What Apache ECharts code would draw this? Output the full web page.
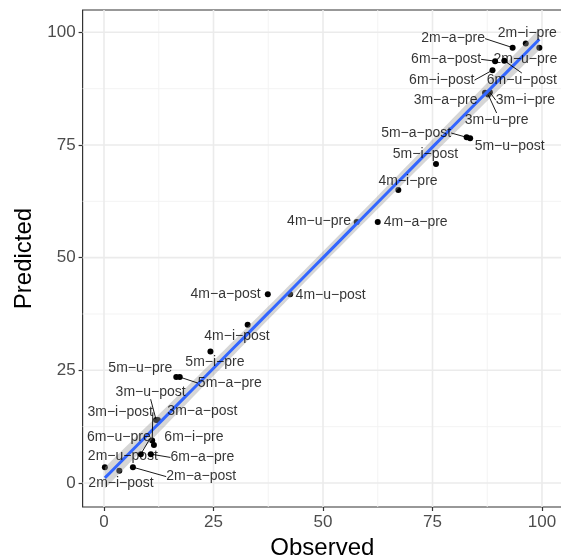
<!DOCTYPE html>
<html><head><meta charset="utf-8">
<script src="https://cdn.jsdelivr.net/npm/echarts@6/dist/echarts.min.js"></script>
<style>html,body{margin:0;padding:0;background:#fff}#c{width:561px;height:558px}</style>
</head><body><div id="c"></div>
<script>
// ---------- data ----------
const labels = [
  '2m−i−pre','2m−a−pre','2m−u−pre','6m−a−post','6m−u−post','6m−i−post',
  '3m−a−pre','3m−i−pre','3m−u−pre','5m−a−post','5m−u−post','5m−i−post',
  '4m−i−pre','4m−a−pre','4m−u−pre','4m−a−post','4m−u−post','4m−i−post',
  '5m−i−pre','5m−u−pre','5m−a−pre','3m−u−post','3m−a−post','3m−i−post',
  '6m−u−pre','6m−i−pre','6m−a−pre','2m−u−post','2m−i−post','2m−a−post'
];
const observed = [
  96.3, 93.3, 99.4, 89.3, 91.4, 88.7,
  87.0, 88.1, 87.7, 82.8, 83.6, 75.8,
  67.2, 62.5, 57.7, 37.4, 42.5, 32.8,
  24.3, 16.5, 17.3, 11.9, 12.3, 11.0,
  8.4, 11.4, 10.7, 0.2, 3.5, 6.6
];
const predicted = [
  97.5, 96.6, 96.6, 93.6, 93.7, 91.6,
  86.6, 86.7, 86.2, 76.7, 76.5, 70.8,
  65.0, 57.9, 57.9, 41.9, 41.9, 35.1,
  29.2, 23.5, 23.5, 14.0, 14.0, 9.4,
  6.4, 8.4, 6.4, 3.5, 2.7, 3.5
];
const tickValues = [0, 25, 50, 75, 100];
const minorValues = [12.5, 37.5, 62.5, 87.5];

// ---------- layout (label offsets in px, segment flags) ----------
const labelOffsets = [
  [1.5,-10.5],[-59.5,-9],[-14,11.3],[-49,-1.8],[17.5,19.3],[-50.7,10],
  [-39.5,7.3],[35.5,8],[8.5,25.5],[-50.5,-4.3],[39.5,8],[-10.5,-10],
  [9.7,-9],[38,0.3],[-37.7,-0.7],[-42.2,-0.3],[40.5,0.7],[-10.7,11.7],
  [4.5,11.2],[-36,-9],[50,6],[-5.5,-27.7],[44.5,-8.3],[-32,-28.3],
  [-22,-16.7],[40,-7.7],[51.5,3.3],[18,-10.6],[1.7,12.6],[68.3,9.4]
];
const labelSegments = [
  false,true,false,true,true,true,
  false,true,true,true,false,false,
  false,false,false,false,false,false,
  false,false,true,true,false,true,
  true,false,true,false,false,true
];

// ---------- linear fit with 95% confidence band ----------
const n = observed.length;
const xbar = observed.reduce((a,b)=>a+b,0)/n;
const ybar = predicted.reduce((a,b)=>a+b,0)/n;
let sxx=0, sxy=0;
for (let i=0;i<n;i++){ sxx += (observed[i]-xbar)**2; sxy += (observed[i]-xbar)*(predicted[i]-ybar); }
const slope = sxy/sxx, intercept = ybar - slope*xbar;
let sse=0;
for (let i=0;i<n;i++){ sse += (predicted[i]-(intercept+slope*observed[i]))**2; }
const s = Math.sqrt(sse/(n-2));
const tcrit = 2.0484; // t(0.975, 28)
const xLo = Math.min(...observed), xHi = Math.max(...observed);
const fitPts = [], upper = [], lower = [];
for (let k=0;k<=80;k++){
  const x = xLo + (xHi-xLo)*k/80;
  const yhat = intercept + slope*x;
  const se = s*Math.sqrt(1/n + (x-xbar)**2/sxx);
  fitPts.push([x, yhat]);
  upper.push([x, yhat + tcrit*se]);
  lower.push([x, yhat - tcrit*se]);
}
const bandPoly = upper.concat(lower.slice().reverse());

const FONT = 'Liberation Sans, Arial, Helvetica, sans-serif';
const chart = echarts.init(document.getElementById('c'), null, {renderer:'canvas'});

const X_MIN = -4.886, X_MAX = 104.57, Y_MIN = -5.33, Y_MAX = 104.95;
const pts = observed.map((x,i)=>[x, predicted[i]]);

function gridItem(params, api){
  const lines = [];
  const add = (v, isX, major) => {
    const a = isX ? api.coord([v, Y_MIN]) : api.coord([X_MIN, v]);
    const b = isX ? api.coord([v, Y_MAX]) : api.coord([X_MAX, v]);
    lines.push({type:'line', shape:{x1:a[0], y1:a[1], x2:b[0], y2:b[1]},
      style:{stroke: major ? '#ebebeb' : '#f2f2f2', lineWidth: major ? 1.6 : 0.9}});
  };
  minorValues.forEach(v=>{ add(v,true,false); add(v,false,false); });
  tickValues.forEach(v=>{ add(v,true,true); add(v,false,true); });
  return {type:'group', children:lines};
}

chart.setOption({
  animation:false,
  backgroundColor:'#fff',
  grid:{left:82.6, top:10, width:479.4, height:497, show:true, borderColor:'#333', borderWidth:1.2,
        backgroundColor:'#fff', outerBoundsMode:'none', containLabel:false},
  xAxis:{
    type:'value', min:X_MIN, max:X_MAX,
    axisLine:{show:false, onZero:false},
    splitLine:{show:false},
    axisTick:{show:true, customValues:tickValues, length:4, lineStyle:{color:'#333', width:1.2}},
    axisLabel:{customValues:tickValues, color:'#4d4d4d', fontSize:17, margin:7, fontFamily:FONT},
    name:'Observed', nameLocation:'middle', nameGap:28,
    nameTextStyle:{fontSize:24, color:'#000', fontFamily:FONT}
  },
  yAxis:{
    type:'value', min:Y_MIN, max:Y_MAX,
    axisLine:{show:false, onZero:false},
    splitLine:{show:false},
    axisTick:{show:true, customValues:tickValues, length:4, lineStyle:{color:'#333', width:1.2}},
    axisLabel:{customValues:tickValues, color:'#4d4d4d', fontSize:17, margin:7, fontFamily:FONT},
    name:'Predicted', nameLocation:'middle', nameGap:46,
    nameTextStyle:{fontSize:24, color:'#000', fontFamily:FONT}
  },
  series:[
    { type:'custom', z:1, silent:true, clip:true, data:[[0,0]], renderItem:gridItem },
    { type:'scatter', data:pts, z:2, symbol:'circle', symbolSize:6, silent:true,
      itemStyle:{color:'#000', opacity:1} },
    { type:'custom', z:3, silent:true, clip:true, data:[[0,0]],
      renderItem:function(params, api){
        return {type:'polygon', shape:{points:bandPoly.map(p=>api.coord(p))},
                style:{fill:'rgba(153,153,153,0.4)'}};
      } },
    { type:'line', z:4, silent:true, data:fitPts, showSymbol:false, symbol:'none',
      lineStyle:{color:'#3366FF', width:3} },
    { type:'scatter', z:5, silent:true, symbol:'circle', symbolSize:1,
      itemStyle:{color:'rgba(0,0,0,0)'},
      data: pts.map((p,i)=>({value:p, name:labels[i], labelLine:{show:labelSegments[i]}})),
      label:{show:true, position:'inside', formatter:p=>p.name, color:'#000', fontSize:14, fontFamily:FONT},
      labelLine:{show:true, lineStyle:{color:'#000', width:0.9}},
      labelLayout:function(params){
        const o = labelOffsets[params.dataIndex];
        return {dx:o[0], dy:o[1]};
      } }
  ]
});
</script></body></html>
